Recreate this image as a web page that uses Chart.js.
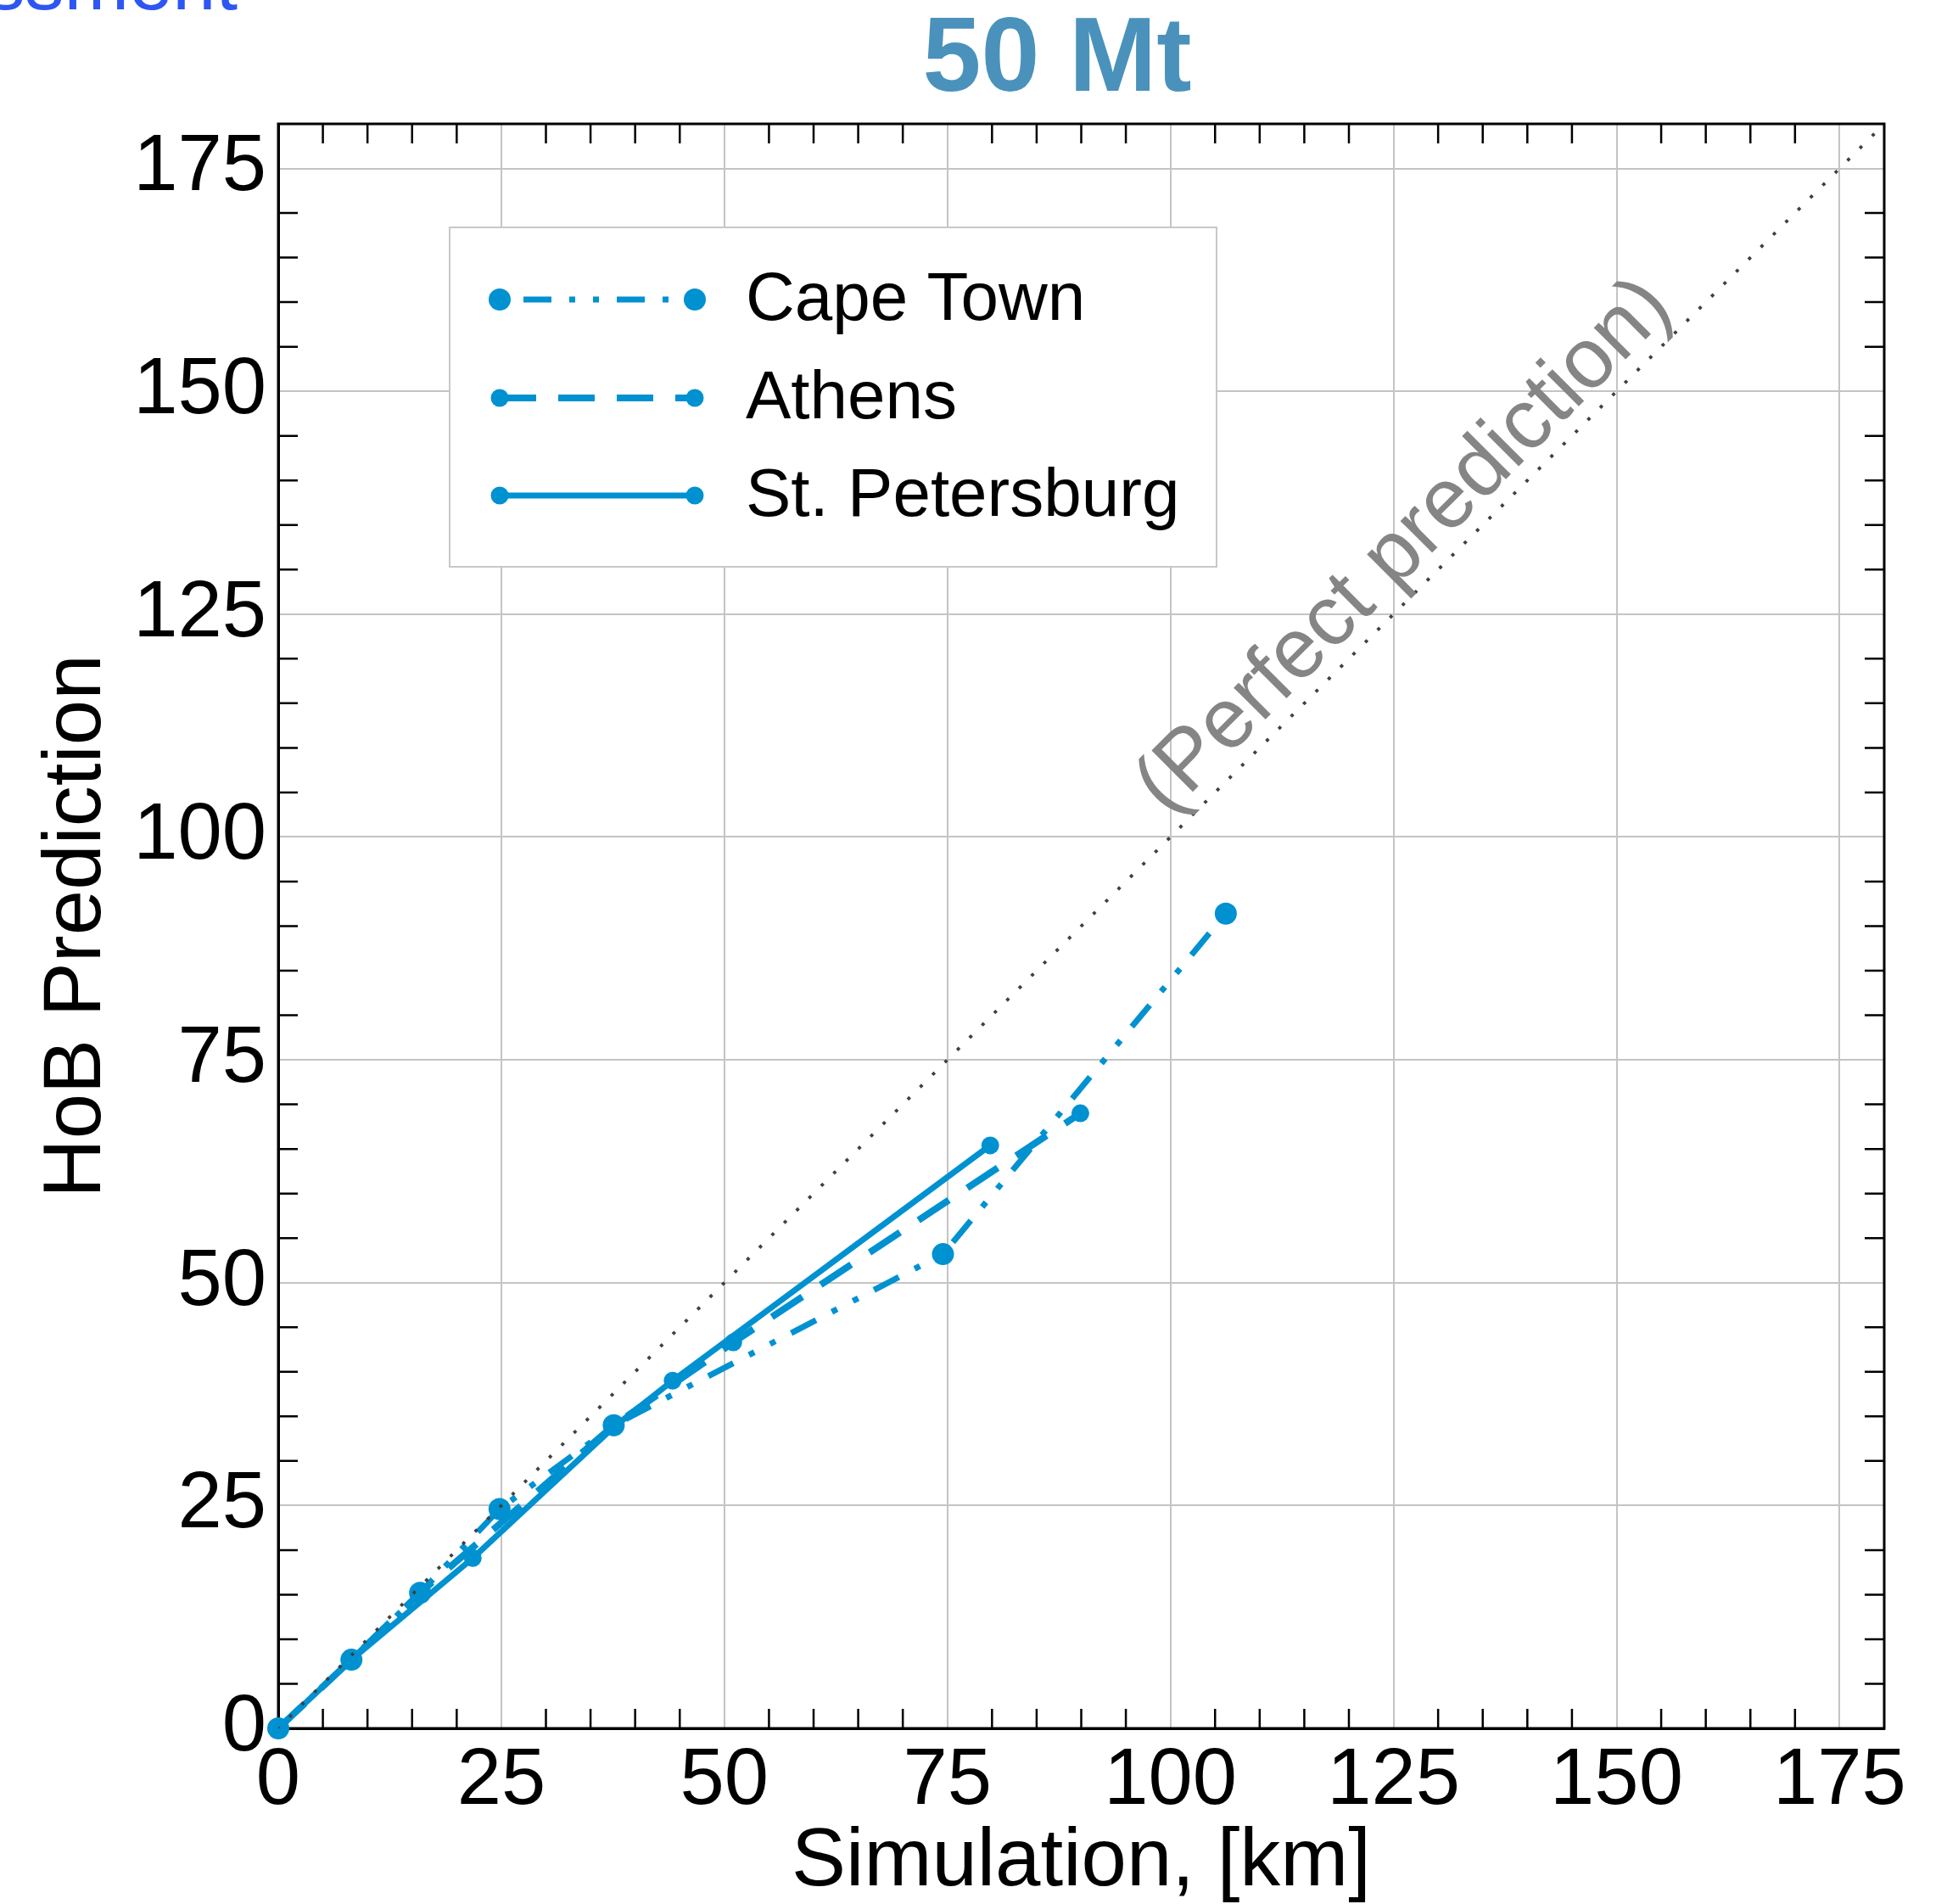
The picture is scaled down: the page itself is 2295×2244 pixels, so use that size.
<!DOCTYPE html>
<html>
<head>
<meta charset="utf-8">
<script src="https://cdn.jsdelivr.net/npm/chart.js@4.4.1/dist/chart.umd.min.js"></script>
<style>
  html, body { margin: 0; padding: 0; background: #fff; }
</style>
</head>
<body>
<canvas id="hobChart" width="2295" height="2244"></canvas>
<script>
// ===== DATA =====
const TICKS = [0, 25, 50, 75, 100, 125, 150, 175];
const AXIS_MAX = 180;
const MINOR_STEP = 5;

const SERIES = ['Cape Town', 'Athens', 'St. Petersburg'];
const CAPE_SIM   = [0, 8.2, 15.9, 24.8, 37.6, 74.5, 106.2];
const CAPE_HOB   = [0, 7.7, 15.2, 24.6, 34.0, 53.2, 91.4];
const ATHENS_SIM = [0, 8.2, 15.9, 37.6, 51.0, 89.9];
const ATHENS_HOB = [0, 7.7, 15.2, 34.0, 43.3, 69.0];
const SPB_SIM    = [0, 8.2, 21.8, 37.6, 44.2, 79.8];
const SPB_HOB    = [0, 7.7, 19.1, 33.8, 39.0, 65.4];
const PERFECT    = [0, 180];

const TITLE = '50 Mt';
const SUPTITLE = 'Assessment';
const PERFECT_LABEL = '(Perfect prediction)';
const X_LABEL = 'Simulation, [km]';
const Y_LABEL = 'HoB Prediction';

// ===== STYLE =====
const FONT = "'Liberation Sans', Arial, Helvetica, sans-serif";
const BLUE = '#0091d1';
const GRID = '#c4c4c4';

function pts(xs, ys) {
  return xs.map((x, i) => ({ x: x, y: ys[i] }));
}

// ======== PLUGINS ========
const frame = {
  id: 'frame',
  beforeDatasetsDraw(chart) {
    const { ctx, chartArea: a, scales } = chart;
    ctx.save();
    ctx.strokeStyle = '#000';
    ctx.lineWidth = 2.5;
    const len = 23;
    for (let v = MINOR_STEP; v < AXIS_MAX; v += MINOR_STEP) {
      if (TICKS.includes(v)) continue;
      const px = scales.x.getPixelForValue(v);
      const py = scales.y.getPixelForValue(v);
      ctx.beginPath();
      ctx.moveTo(px, a.bottom); ctx.lineTo(px, a.bottom - len);
      ctx.moveTo(px, a.top);    ctx.lineTo(px, a.top + len);
      ctx.moveTo(a.left, py);   ctx.lineTo(a.left + len, py);
      ctx.moveTo(a.right, py);  ctx.lineTo(a.right - len, py);
      ctx.stroke();
    }
    ctx.lineWidth = 3;
    ctx.strokeRect(a.left, a.top, a.right - a.left, a.bottom - a.top);
    ctx.restore();
  },
};

const annotations = {
  id: 'annotations',
  afterDraw(chart) {
    const { ctx, scales } = chart;
    ctx.save();

    // title
    ctx.fillStyle = '#4a92bb';
    ctx.font = 'bold 124px ' + FONT;
    ctx.textAlign = 'center';
    ctx.textBaseline = 'alphabetic';
    ctx.fillText(TITLE, 1246, 107);

    // clipped figure title at top-left
    ctx.fillStyle = '#2e56f2';
    ctx.font = '92px ' + FONT;
    ctx.textAlign = 'right';
    ctx.fillText(SUPTITLE, 280, 11);

    // perfect prediction label along the diagonal
    const v = 129.4;
    const px = scales.x.getPixelForValue(v);
    const py = scales.y.getPixelForValue(v);
    const ang = Math.atan2(scales.y.getPixelForValue(AXIS_MAX) - scales.y.getPixelForValue(0),
                           scales.x.getPixelForValue(AXIS_MAX) - scales.x.getPixelForValue(0));
    ctx.translate(px, py);
    ctx.rotate(ang);
    ctx.fillStyle = '#858585';
    ctx.font = '100px ' + FONT;
    ctx.textAlign = 'center';
    ctx.fillText(PERFECT_LABEL, 0, -19);
    ctx.restore();

    // legend
    const box = { x: 530, y: 268, w: 904, h: 400 };
    ctx.save();
    ctx.fillStyle = '#fff';
    ctx.fillRect(box.x, box.y, box.w, box.h);
    ctx.strokeStyle = '#c8c8c8';
    ctx.lineWidth = 2;
    ctx.strokeRect(box.x, box.y, box.w, box.h);
    const rows = [353, 469, 584];
    const offsets = [82, 0, 0];
    const x0 = 589, x1 = 819;
    SERIES.forEach((name, i) => {
      const ds = chart.data.datasets[i + 1];
      const y = rows[i];
      ctx.strokeStyle = ds.borderColor;
      ctx.lineWidth = ds.borderWidth;
      ctx.setLineDash(ds.borderDash || []);
      ctx.lineDashOffset = offsets[i];
      ctx.beginPath();
      ctx.moveTo(x0, y); ctx.lineTo(x1, y);
      ctx.stroke();
      ctx.setLineDash([]);
      ctx.fillStyle = ds.pointBackgroundColor;
      [x0, x1].forEach(mx => {
        ctx.beginPath();
        ctx.arc(mx, y, ds.pointRadius, 0, Math.PI * 2);
        ctx.fill();
      });
      ctx.fillStyle = '#000';
      ctx.font = '80px ' + FONT;
      ctx.textAlign = 'left';
      ctx.textBaseline = 'alphabetic';
      ctx.fillText(name, 879, y + 24);
    });
    ctx.restore();
  },
};

// ======== CHART ========
function lineSet(label, xs, ys, width, dash, radius) {
  return {
    label: label,
    data: pts(xs, ys),
    showLine: true,
    borderColor: BLUE,
    backgroundColor: BLUE,
    borderWidth: width,
    borderDash: dash,
    pointRadius: radius,
    pointBackgroundColor: BLUE,
    pointBorderWidth: 0,
    clip: false,
  };
}

const axisCommon = (fit) => ({
  type: 'linear',
  min: 0,
  max: AXIS_MAX,
  afterBuildTicks: s => { s.ticks = TICKS.map(v => ({ value: v })); },
  afterFit: fit,
  grid: { color: GRID, lineWidth: 2, drawTicks: false },
  border: { color: '#000', width: 3 },
});

new Chart(document.getElementById('hobChart'), {
  type: 'scatter',
  data: {
    datasets: [
      {
        label: 'Perfect',
        data: pts(PERFECT, PERFECT),
        showLine: true,
        borderColor: '#404040',
        borderWidth: 3.8,
        borderDash: [3.8, 16.8],
        borderDashOffset: 1.9,
        pointRadius: 0,
      },
      lineSet(SERIES[0], CAPE_SIM, CAPE_HOB, 7, [33, 21, 7, 21, 7, 21], 13),
      lineSet(SERIES[1], ATHENS_SIM, ATHENS_HOB, 8, [43, 26], 10.5),
      lineSet(SERIES[2], SPB_SIM, SPB_HOB, 7, [], 10.5),
    ],
  },
  options: {
    responsive: false,
    devicePixelRatio: 1,
    animation: false,
    layout: { padding: { top: 146, right: 74, left: 0, bottom: 0 } },
    plugins: {
      legend: { display: false },
      tooltip: { enabled: false },
    },
    scales: {
      x: Object.assign(axisCommon(s => { s.height = 207; }), {
        ticks: { color: '#000', font: { family: FONT, size: 94 }, padding: 7, maxRotation: 0, autoSkip: false },
        title: { display: true, text: X_LABEL, color: '#000', font: { family: FONT, size: 96, lineHeight: 1 }, padding: 0 },
      }),
      y: Object.assign(axisCommon(s => { s.width = 328; }), {
        ticks: { color: '#000', font: { family: FONT, size: 94 }, padding: 14, autoSkip: false },
        title: { display: true, text: Y_LABEL, color: '#000', font: { family: FONT, size: 96, lineHeight: 1 }, padding: { top: 44, bottom: 0 } },
      }),
    },
  },
  plugins: [frame, annotations],
});
</script>
</body>
</html>
